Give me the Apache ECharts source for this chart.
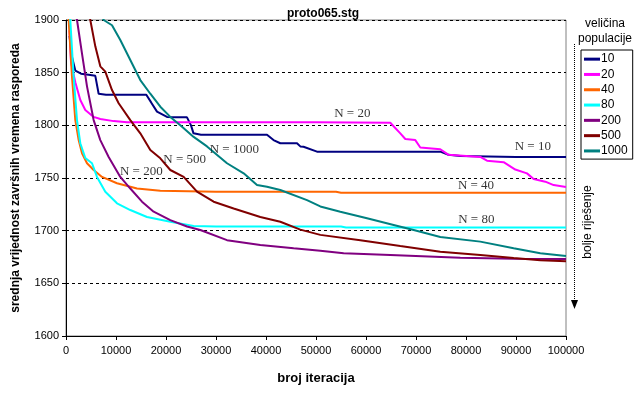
<!DOCTYPE html>
<html><head><meta charset="utf-8">
<script src="https://cdn.jsdelivr.net/npm/echarts@6/dist/echarts.min.js"></script>
<style>html,body{margin:0;padding:0;background:#fff}#c{width:642px;height:396px}</style>
</head><body><div id="c"></div>
<script>
// ---- data ----
const seriesNames = ['10','20','40','80','200','500','1000'];
const seriesColors = ['#000080','#FF00FF','#FF6600','#00FFFF','#800080','#800000','#008080'];

const iter10 = [700,1200,1860,3000,4500,5860,6530,8000,12000,16060,17000,18200,20200,22000,24200,25000,25500,27000,32000,40200,41500,42860,46200,46860,47500,50200,60000,74860,76500,78860,90000,100000];
const val10  = [1885,1865,1852,1849,1848,1847,1830,1829,1829,1829,1822,1813,1808,1807.6,1807.6,1800,1792.4,1791,1791,1791,1786,1783,1783,1780,1779.7,1775,1775,1775,1772,1771,1770,1770];

const iter20 = [700,1000,1860,2860,3860,5530,6860,9530,12200,30000,50000,64860,66860,67860,69860,70860,74860,76530,82860,84200,87530,89860,92200,93530,95860,97530,100000];
const val20  = [1890,1860,1841,1824,1814.6,1808,1806,1804,1803,1803,1803,1802.5,1792.4,1787,1786,1779,1777.3,1772,1770,1766.4,1765,1758,1754.4,1749,1746.5,1743.3,1741.5];

const iter40 = [300,530,1200,1860,2530,3200,4200,5530,7200,10200,14200,18860,30000,54000,55000,100000];
const val40  = [1950,1900,1846,1805,1786,1773.4,1764,1757.6,1751,1745,1740,1738,1737,1737,1736,1736];

const iter80 = [600,860,1530,2200,2860,3860,5200,6200,7860,10200,12860,16200,20860,25530,30000,55000,56000,100000];
const val80  = [1930,1900,1846,1805,1783,1769,1764,1751,1737,1726,1719.6,1713,1708.5,1704.4,1704,1704,1703,1703];

const iter200 = [1500,2200,3200,4200,5530,6860,8530,10860,12860,15200,17530,20860,24200,26860,32200,38860,45530,50860,55530,64860,78860,89530,100000];
const val200  = [1922,1900,1868,1837,1805,1786,1770,1751,1740,1727.5,1718,1710,1704,1700.6,1691,1686.4,1683.3,1681,1678.5,1677,1674.3,1673.4,1673];

const iter500 = [4000,4860,5860,6860,7860,9200,10530,12860,14860,16860,18860,20860,23530,26200,29530,33530,38860,42860,46860,50860,58860,66860,74860,82860,89530,94860,100000];
const val500  = [1922,1900,1875,1856,1851,1833.5,1821,1805,1792.4,1776.6,1768.7,1757.6,1751,1737,1727.5,1721,1713,1708.5,1701,1696,1691,1685.4,1680,1677,1674,1672,1671];

const iter1000 = [6500,7530,9200,10860,12860,14860,16860,18860,20860,22860,25530,28200,32200,35530,38200,40200,42860,48200,50860,54860,60200,65530,69530,74860,82860,89530,94860,100000];
const val1000  = [1910,1900,1895,1881,1862,1843,1830,1817.7,1808,1800,1789,1780,1764,1754.4,1743.4,1741.7,1738.6,1729,1723,1718,1711.7,1705.4,1700.6,1694,1689.6,1683.3,1678.5,1676];

const allIters = [iter10, iter20, iter40, iter80, iter200, iter500, iter1000];
const allVals  = [val10, val20, val40, val80, val200, val500, val1000];

// annotation labels (text, iteration, value)
const noteText = ['N = 20','N = 10','N = 40','N = 80','N = 1000','N = 500','N = 200'];
const noteIter = [57260, 93360, 82000, 82060, 33660, 23720, 15060];
const noteVal  = [1810.8, 1779.7, 1742.7, 1711, 1777.2, 1767.4, 1756];

const yMin = 1600, yMax = 1900, yStep = 50;
const xMin = 0, xMax = 100000, xStep = 10000;

// ---- chart ----
const chart = echarts.init(document.getElementById('c'), null, {renderer: 'canvas'});
const sans = 'Liberation Sans, Arial, sans-serif';

const lineSeries = seriesNames.map((n, i) => ({
  name: n,
  type: 'line',
  symbol: 'none',
  clip: true,
  animation: false,
  lineStyle: {color: seriesColors[i], width: 2},
  itemStyle: {color: seriesColors[i]},
  data: allIters[i].map((x, k) => [x, allVals[i][k]]),
  z: 3 + i
}));

const noteSeries = {
  name: 'notes',
  type: 'scatter',
  symbolSize: 0,
  animation: false,
  silent: true,
  z: 20,
  data: noteIter.map((x, k) => ({value: [x, noteVal[k]], name: noteText[k]})),
  label: {
    show: true, position: 'inside', formatter: p => p.name,
    color: '#000', fontFamily: 'Liberation Serif, Times New Roman, serif', fontSize: 13
  }
};

chart.setOption({
  backgroundColor: '#fff',
  animation: false,
  title: {
    text: 'proto065.stg', left: 318, top: 3, textAlign: 'center',
    textStyle: {fontFamily: sans, fontWeight: 'bold', fontSize: 12, color: '#000'}
  },
  grid: {left: 66, right: 76, top: 20, bottom: 60, show: true, borderColor: '#808080', borderWidth: 1, backgroundColor: 'transparent'},
  legend: {
    data: seriesNames,
    orient: 'vertical', left: 581, top: 50,
    icon: 'rect',
    itemWidth: 16, itemHeight: 3, itemGap: 3,
    padding: [3, 5, 2, 3],
    borderColor: '#000', borderWidth: 1, backgroundColor: '#fff',
    textStyle: {fontFamily: sans, fontSize: 12, lineHeight: 12.3, color: '#000', padding: [0,0,0,-4]},
    selectedMode: false
  },
  xAxis: {
    type: 'value', min: xMin, max: xMax, interval: xStep,
    name: 'broj iteracija', nameLocation: 'middle', nameGap: 36,
    nameTextStyle: {fontFamily: sans, fontWeight: 'bold', fontSize: 13, color: '#000'},
    axisLine: {show: true, lineStyle: {color: '#000', width: 1}},
    axisTick: {show: true, length: 4, lineStyle: {color: '#000'}},
    axisLabel: {fontFamily: sans, fontSize: 11, color: '#000', margin: 9, formatter: v => String(v)},
    splitLine: {show: false}
  },
  yAxis: {
    type: 'value', min: yMin, max: yMax, interval: yStep,
    name: 'srednja vrijednost završnih vremena rasporeda', nameLocation: 'middle', nameGap: 44,
    nameTextStyle: {fontFamily: sans, fontWeight: 'bold', fontSize: 12, color: '#000'},
    axisLine: {show: true, lineStyle: {color: '#000', width: 1}},
    axisTick: {show: true, length: 4, lineStyle: {color: '#000'}},
    axisLabel: {fontFamily: sans, fontSize: 11, color: '#000', margin: 7, formatter: v => String(v)},
    splitLine: {show: true, lineStyle: {color: '#000', type: [3, 3], width: 1},
      interval: (idx, val) => val > yMin && val < yMax}
  },
  graphic: [
    {type: 'text', x: 605, y: 24, style: {text: 'veličina', font: '12px ' + sans, fill: '#000', align: 'center', verticalAlign: 'middle'}},
    {type: 'text', x: 605, y: 39, style: {text: 'populacije', font: '12px ' + sans, fill: '#000', align: 'center', verticalAlign: 'middle'}},
    {type: 'line', shape: {x1: 574.5, y1: 44, x2: 574.5, y2: 301}, style: {stroke: '#000', lineWidth: 1, lineDash: [1, 1]}},
    {type: 'polygon', shape: {points: [[571, 300], [578, 300], [574.5, 309]]}, style: {fill: '#000'}},
    {type: 'text', x: 588, y: 222, rotation: Math.PI / 2, style: {text: 'bolje riješenje', font: '12px ' + sans, fill: '#000', align: 'center', verticalAlign: 'middle'}}
  ],
  series: [...lineSeries, noteSeries]
});
</script>
</body></html>
